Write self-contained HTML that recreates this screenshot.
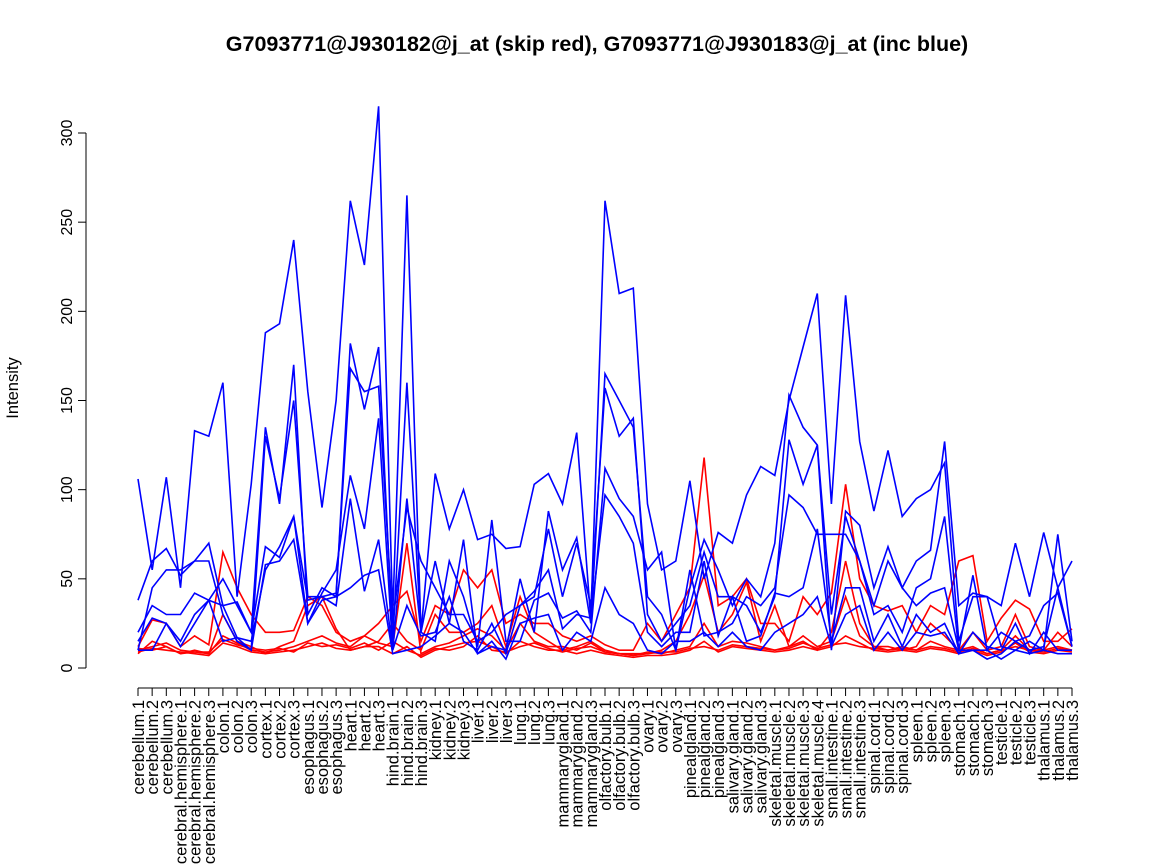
<!DOCTYPE html>
<html><head><meta charset="utf-8"><style>
body{margin:0;background:#fff;}
svg{display:block;font-family:"Liberation Sans",sans-serif;}
</style></head>
<body>
<svg id="chart" width="1152" height="864">
<text x="597" y="51" text-anchor="middle" font-size="21.5" font-weight="bold">G7093771@J930182@j_at (skip red), G7093771@J930183@j_at (inc blue)</text>
<text transform="translate(18,388) rotate(-90)" text-anchor="middle" font-size="16.5">Intensity</text>
<g id="axes"></g>
<g id="series"></g>
</svg>
<script>
const categories=["cerebellum.1","cerebellum.2","cerebellum.3","cerebral.hemisphere.1","cerebral.hemisphere.2","cerebral.hemisphere.3","colon.1","colon.2","colon.3","cortex.1","cortex.2","cortex.3","esophagus.1","esophagus.2","esophagus.3","heart.1","heart.2","heart.3","hind.brain.1","hind.brain.2","hind.brain.3","kidney.1","kidney.2","kidney.3","liver.1","liver.2","liver.3","lung.1","lung.2","lung.3","mammarygland.1","mammarygland.2","mammarygland.3","olfactory.bulb.1","olfactory.bulb.2","olfactory.bulb.3","ovary.1","ovary.2","ovary.3","pinealgland.1","pinealgland.2","pinealgland.3","salivary.gland.1","salivary.gland.2","salivary.gland.3","skeletal.muscle.1","skeletal.muscle.2","skeletal.muscle.3","skeletal.muscle.4","small.intestine.1","small.intestine.2","small.intestine.3","spinal.cord.1","spinal.cord.2","spinal.cord.3","spleen.1","spleen.2","spleen.3","stomach.1","stomach.2","stomach.3","testicle.1","testicle.2","testicle.3","thalamus.1","thalamus.2","thalamus.3"];
const yTicks=[0,50,100,150,200,250,300];
const red1=[12,27,25,12,18,13,65,45,30,20,20,21,40,35,20,15,18,25,35,43,15,35,30,55,45,55,25,30,25,25,18,15,18,13,10,10,25,15,30,45,118,35,40,50,25,25,15,40,30,42,103,50,35,32,35,20,35,30,60,63,15,28,38,33,15,15,22];
const red2=[8,15,12,8,10,8,30,15,12,8,12,15,35,40,22,10,12,15,25,15,10,30,20,20,25,35,12,40,20,15,10,12,15,10,8,8,8,10,15,30,52,20,30,48,15,35,12,15,10,20,60,25,12,12,10,12,25,18,10,20,10,12,30,12,10,20,12];
const red3=[10,12,14,10,9,8,18,14,10,9,10,12,15,18,14,12,18,14,12,70,8,12,14,18,22,18,10,25,15,12,12,10,14,9,8,7,9,8,10,12,25,12,15,14,12,10,12,18,12,15,40,18,12,10,12,10,15,12,10,12,8,10,18,10,10,12,10];
const red4=[9,11,10,9,8,7,14,12,9,8,9,10,12,14,11,10,12,12,8,12,6,10,12,14,15,12,8,15,12,10,10,8,10,8,7,6,7,7,8,10,15,9,12,11,10,9,10,12,10,12,18,14,10,9,10,9,11,10,8,10,7,9,14,9,8,10,9];
const red5=[11,10,12,8,9,9,16,13,11,10,11,9,14,12,13,11,14,10,15,10,7,11,10,12,18,10,9,12,14,11,9,11,12,9,8,7,8,9,9,11,12,10,13,12,11,10,11,14,11,13,14,12,11,10,11,10,12,11,9,11,8,10,12,10,9,11,10];
const blue1=[106,55,107,45,133,130,160,40,103,188,193,240,155,90,150,262,226,315,30,265,20,109,78,100,72,75,67,68,103,109,92,132,27,262,210,213,92,55,60,105,50,76,70,97,113,108,150,180,210,92,209,127,88,122,85,95,100,115,15,40,40,35,70,40,76,45,60];
const blue2=[38,60,67,52,60,70,35,37,20,135,92,170,30,45,40,182,145,180,15,160,20,60,25,72,8,12,10,50,20,88,55,73,25,165,150,135,40,30,10,45,72,55,35,50,40,70,153,135,125,10,88,80,45,68,45,60,66,127,35,42,40,12,10,15,10,75,15];
const blue3=[10,45,55,55,60,60,30,15,10,130,95,150,40,40,42,168,155,158,25,90,60,45,30,30,15,20,30,35,40,78,40,70,35,157,130,140,30,15,25,35,65,40,40,35,20,40,128,103,125,30,85,60,30,35,20,45,50,85,10,52,10,20,15,18,35,42,12];
const blue4=[20,35,30,30,42,38,50,35,20,68,62,85,25,42,55,108,78,140,10,95,20,15,60,40,12,83,15,15,38,42,28,32,20,112,95,85,55,65,10,55,18,20,25,40,35,45,97,90,75,75,75,60,35,60,45,35,42,45,10,10,5,8,15,10,12,45,12];
const blue5=[15,28,25,12,25,38,35,17,15,55,68,85,38,40,35,95,43,72,10,35,18,20,40,15,10,25,8,35,43,55,22,30,28,97,85,70,20,12,20,20,60,18,40,15,18,42,40,45,78,15,45,45,15,30,12,30,20,25,8,20,12,10,25,8,20,10,10];
const blue6=[10,10,25,15,30,38,15,17,10,58,60,72,25,38,40,45,52,55,8,10,12,18,25,20,8,15,5,25,28,30,10,20,15,45,30,25,10,8,15,15,20,12,20,12,10,20,25,30,40,12,30,35,10,20,10,20,18,20,8,10,10,5,10,8,10,8,8];

const NS="http://www.w3.org/2000/svg";
const X0=138,X1=1072,Y0=668,Y300=133;
function xs(i){return X0+(X1-X0)*i/(categories.length-1);}
function ys(v){return Y0-(Y0-Y300)*v/300;}
function mk(tag,attrs,parent){const e=document.createElementNS(NS,tag);for(const k in attrs)e.setAttribute(k,attrs[k]);parent.appendChild(e);return e;}
const axes=document.getElementById('axes');
const yl=mk('line',{x1:86,x2:86,y1:ys(0),y2:ys(300),stroke:'#000'},axes);


yTicks.forEach(t=>{
  const tk=mk('line',{x1:78,x2:86,y1:ys(t),y2:ys(t),stroke:'#000'},axes);
  
  
  const tx=mk('text',{transform:`translate(72,${ys(t)}) rotate(-90)`,'text-anchor':'middle','font-size':16},axes);
  tx.textContent=t;
  
  
});
const xl=mk('line',{x1:X0,x2:X1,y1:688,y2:688,stroke:'#000'},axes);


categories.forEach((c,i)=>{
  const x=xs(i);
  const tk=mk('line',{x1:x,x2:x,y1:688,y2:696,stroke:'#000'},axes);
  
  
  const tx=mk('text',{transform:`translate(${x+6},700) rotate(-90)`,'text-anchor':'end','font-size':16.5},axes);
  tx.textContent=c;
  
  
});
const g=document.getElementById('series');
function draw(arr,color,name){
  const pts=arr.map((v,i)=>xs(i).toFixed(1)+','+ys(v).toFixed(1)).join(' ');
  const p=mk('polyline',{points:pts,fill:'none',stroke:color,'stroke-width':1.6,'stroke-linejoin':'miter'},g);
  
  
}
draw(red1,'#ff0000','red-series-1');
draw(red2,'#ff0000','red-series-2');
draw(red3,'#ff0000','red-series-3');
draw(red4,'#ff0000','red-series-4');
draw(red5,'#ff0000','red-series-5');
draw(blue1,'#0000ff','blue-series-1');
draw(blue2,'#0000ff','blue-series-2');
draw(blue3,'#0000ff','blue-series-3');
draw(blue4,'#0000ff','blue-series-4');
draw(blue5,'#0000ff','blue-series-5');
draw(blue6,'#0000ff','blue-series-6');
</script>
</body></html>
